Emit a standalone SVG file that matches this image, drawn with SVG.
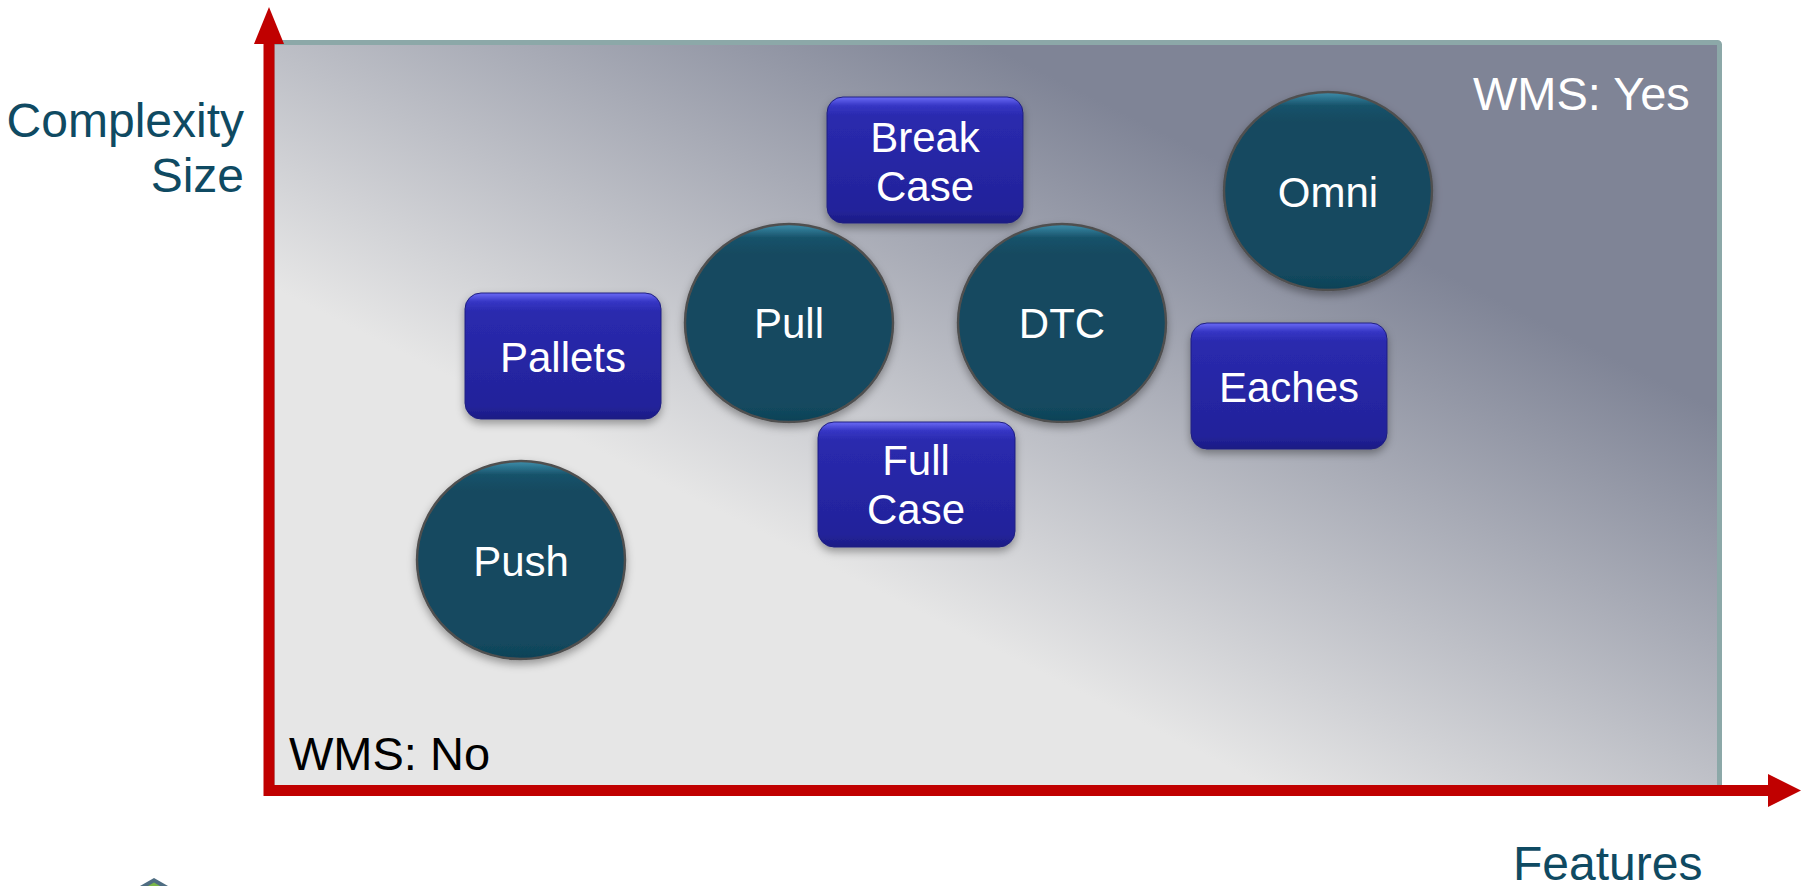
<svg xmlns="http://www.w3.org/2000/svg" width="1808" height="886" viewBox="0 0 1808 886">
  <style>
    .axislbl { font-family: "Liberation Sans", Arial, sans-serif; font-size: 48px; fill: #0f4a62; }
    .nodetxt { font-family: "Liberation Sans", Arial, sans-serif; font-size: 42px; fill: #ffffff; text-anchor: middle; }
    .wms { font-family: "Liberation Sans", Arial, sans-serif; font-size: 47px; }
    .circ { fill: url(#circGrad); stroke: #505050; stroke-width: 2.5; filter: url(#shadow); }
    .box { fill: url(#boxGrad); stroke: #1e1e80; stroke-width: 1; filter: url(#shadow); }
    .axis { stroke: #c00000; stroke-width: 11; fill: none; }
    .head { fill: #c00000; }
  </style>
  <defs>
    <linearGradient id="panelGrad" gradientUnits="userSpaceOnUse" x1="273" y1="288" x2="514" y2="-193">
      <stop offset="0" stop-color="#e6e6e6"/>
      <stop offset="1" stop-color="#7f8496"/>
    </linearGradient>
    <linearGradient id="circGrad" x1="0" y1="0" x2="0" y2="1">
      <stop offset="0" stop-color="#3f8fac"/>
      <stop offset="0.07" stop-color="#16526a"/>
      <stop offset="0.15" stop-color="#134a60"/>
      <stop offset="0.9" stop-color="#134a60"/>
      <stop offset="1" stop-color="#0f4257"/>
    </linearGradient>
    <linearGradient id="boxGrad" x1="0" y1="0" x2="0" y2="1">
      <stop offset="0" stop-color="#6a6af5"/>
      <stop offset="0.07" stop-color="#3535c4"/>
      <stop offset="0.15" stop-color="#2a2aae"/>
      <stop offset="0.9" stop-color="#22229a"/>
      <stop offset="1" stop-color="#1c1c84"/>
    </linearGradient>
    <filter id="shadow" x="-20%" y="-20%" width="140%" height="150%">
      <feDropShadow dx="0" dy="4" stdDeviation="4" flood-color="#000000" flood-opacity="0.35"/>
    </filter>
  </defs>

  <rect x="0" y="0" width="1808" height="886" fill="#ffffff"/>

  <g id="panel">
    <rect x="272" y="42.5" width="1447.5" height="746" fill="url(#panelGrad)" stroke="#8ca8a8" stroke-width="5" rx="2"/>
    <text class="wms" x="1473" y="110" fill="#ffffff">WMS: Yes</text>
    <text class="wms" x="289" y="770" fill="#000000">WMS: No</text>
  </g>

  <g id="connectors">
    <line class="axis" x1="269" y1="796" x2="269" y2="40"/>
    <polygon class="head" points="254,44 284,44 269,7"/>
    <line class="axis" x1="264" y1="790.5" x2="1771" y2="790.5"/>
    <polygon class="head" points="1768,774 1768,807 1801,790.5"/>
  </g>

  <g id="axis-labels">
    <text class="axislbl" x="244" y="137" text-anchor="end">Complexity</text>
    <text class="axislbl" x="244" y="192" text-anchor="end">Size</text>
    <text class="axislbl" x="1513" y="880">Features</text>
  </g>

  <g id="node-break-case">
    <rect class="box" x="827" y="97" width="196" height="126" rx="16"/>
    <text class="nodetxt" x="925" y="152">Break</text>
    <text class="nodetxt" x="925" y="201">Case</text>
  </g>

  <g id="node-omni">
    <ellipse class="circ" cx="1328" cy="191" rx="104" ry="99"/>
    <text class="nodetxt" x="1328" y="207">Omni</text>
  </g>

  <g id="node-pull">
    <ellipse class="circ" cx="789" cy="323" rx="104" ry="99"/>
    <text class="nodetxt" x="789" y="338">Pull</text>
  </g>

  <g id="node-dtc">
    <ellipse class="circ" cx="1062" cy="323" rx="104" ry="99"/>
    <text class="nodetxt" x="1062" y="338">DTC</text>
  </g>

  <g id="node-pallets">
    <rect class="box" x="465" y="293" width="196" height="126" rx="16"/>
    <text class="nodetxt" x="563" y="372">Pallets</text>
  </g>

  <g id="node-eaches">
    <rect class="box" x="1191" y="323" width="196" height="126" rx="16"/>
    <text class="nodetxt" x="1289" y="402">Eaches</text>
  </g>

  <g id="node-full-case">
    <rect class="box" x="818" y="422" width="197" height="125" rx="16"/>
    <text class="nodetxt" x="916" y="475">Full</text>
    <text class="nodetxt" x="916" y="524">Case</text>
  </g>

  <g id="node-push">
    <ellipse class="circ" cx="521" cy="560" rx="104" ry="99"/>
    <text class="nodetxt" x="521" y="576">Push</text>
  </g>

  <g id="logo">
    <polygon points="140,886 154,878 168,886" fill="#4f6d82"/>
    <polygon points="148,886 154,882.5 160,886" fill="#7ab648"/>
  </g>
</svg>
